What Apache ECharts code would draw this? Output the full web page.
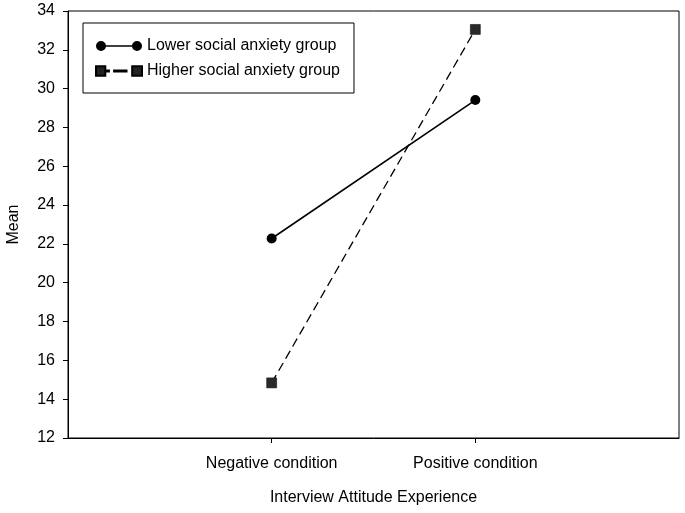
<!DOCTYPE html>
<html>
<head>
<meta charset="utf-8">
<script src="https://cdn.jsdelivr.net/npm/echarts@6/dist/echarts.min.js"></script>
<style>html,body{margin:0;padding:0;background:#fff}#c{width:685px;height:513px}</style>
</head>
<body>
<div id="c"></div>
<script>
const categories = ['Negative condition', 'Positive condition'];
const lowerGroup = [22.28, 29.41];
const higherGroup = [14.84, 33.05];
const seriesNames = ['Lower social anxiety group', 'Higher social anxiety group'];
const yTicks = [12, 14, 16, 18, 20, 22, 24, 26, 28, 30, 32, 34];

const axisCats = [''].concat(categories, ['']);
const pad = arr => [null].concat(arr, [null]);
const FONT = '"Liberation Sans", Arial, sans-serif';

const iconLower = 'path://M0,5A5,5,0,1,1,10,5A5,5,0,1,1,0,5Z M36,5A5,5,0,1,1,46,5A5,5,0,1,1,36,5Z M5,4.3H41V5.7H5Z';
const iconHigher = 'path://M1,0.5H10V9.5H1Z M10,4.45H13.5V5.55H10Z M18.5,4.45H30.5V5.55H18.5Z M36,0.5H45.5V9.5H36Z';

const chart = echarts.init(document.getElementById('c'), null, {renderer: 'canvas'});
chart.setOption({
  animation: false,
  backgroundColor: '#fff',
  grid: {left: 68, top: 11, right: 6, bottom: 75, containLabel: false, outerBoundsMode: 'none', show: true, borderColor: '#000', borderWidth: 1, backgroundColor: 'transparent'},
  legend: {
    orient: 'vertical',
    left: 83, top: 23,
    padding: [15, 14, 14, 12],
    itemGap: 9,
    itemWidth: 46, itemHeight: 10,
    borderColor: '#000', borderWidth: 1,
    textStyle: {fontFamily: FONT, fontSize: 16, color: '#000'},
    data: [
      {name: seriesNames[0], icon: iconLower, itemStyle: {color: '#000'}},
      {name: seriesNames[1], icon: iconHigher, itemStyle: {color: '#222'}}
    ]
  },
  xAxis: {
    type: 'category',
    data: axisCats,
    boundaryGap: false,
    name: 'Interview Attitude Experience',
    nameLocation: 'middle',
    nameGap: 52,
    nameTextStyle: {fontFamily: FONT, fontSize: 16, color: '#000'},
    axisLine: {lineStyle: {color: '#000', width: 1}},
    axisTick: {length: 5, interval: (i) => i === 1 || i === 2, lineStyle: {color: '#000'}},
    axisLabel: {interval: (i) => i === 1 || i === 2, margin: 18, fontFamily: FONT, fontSize: 16, color: '#000'},
    splitLine: {show: false}
  },
  yAxis: {
    type: 'value',
    min: yTicks[0], max: yTicks[yTicks.length - 1], interval: 2,
    name: 'Mean',
    nameLocation: 'middle',
    nameGap: 46,
    nameTextStyle: {fontFamily: FONT, fontSize: 16, color: '#000'},
    axisLine: {show: true, lineStyle: {color: '#000', width: 1}},
    axisTick: {show: true, length: 5, lineStyle: {color: '#000'}},
    axisLabel: {margin: 13, fontFamily: FONT, fontSize: 16, color: '#000'},
    splitLine: {show: false}
  },
  series: [
    {
      name: seriesNames[0], type: 'line', data: pad(lowerGroup),
      symbol: 'circle', symbolSize: 10, connectNulls: false,
      lineStyle: {color: '#000', width: 1.6},
      itemStyle: {color: '#000'}
    },
    {
      name: seriesNames[1], type: 'line', data: pad(higherGroup),
      symbol: 'rect', symbolSize: 10,
      lineStyle: {color: '#000', width: 1.3, type: [9, 5]},
      itemStyle: {color: '#2a2a2a', borderColor: '#000', borderWidth: 0.5}
    }
  ]
});
</script>
</body>
</html>
